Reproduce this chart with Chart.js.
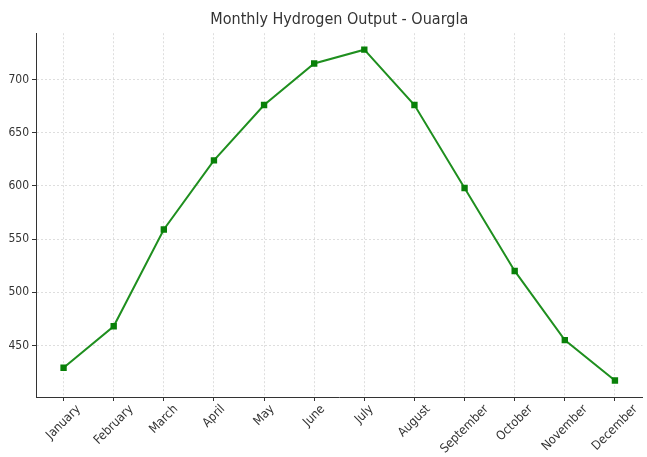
<!DOCTYPE html>
<html>
<head>
<meta charset="utf-8">
<script src="https://cdn.jsdelivr.net/npm/chart.js@4.4.0/dist/chart.umd.min.js"></script>
<style>
  html, body { margin: 0; padding: 0; background: #fff; }
  #wrap { width: 647px; height: 457px; }
</style>
</head>
<body>
<div id="wrap"><canvas id="chart"></canvas></div>
<script>
const months = ["January", "February", "March", "April", "May", "June",
    "July", "August", "September", "October", "November", "December"];
const output = [429, 468, 559, 624, 676, 715, 728, 676, 598, 520, 455, 417];
const yTicks = [450, 500, 550, 600, 650, 700];

const fontFamily = "'DejaVu Sans Condensed', 'DejaVu Sans', sans-serif";
const axisColor = '#333333';
const gridColor = 'rgba(200, 200, 200, 0.6)';

// month labels rotated 45deg and centred under each tick (matplotlib style)
const centredLabels = {
    id: 'centredLabels',
    afterDraw(chart) {
        const scale = chart.scales.x;
        const ctx = chart.ctx;
        const h = 12;
        ctx.save();
        ctx.font = '12.5px ' + fontFamily;
        ctx.fillStyle = axisColor;
        ctx.textAlign = 'center';
        ctx.textBaseline = 'middle';
        months.forEach((m, i) => {
            const w = ctx.measureText(m).width;
            const x = scale.getPixelForValue(i);
            const y = scale.top + 6 + (w + h) / (2 * Math.SQRT2);
            ctx.save();
            ctx.translate(x, y);
            ctx.rotate(-Math.PI / 4);
            ctx.fillText(m, 0, 0);
            ctx.restore();
        });
        ctx.restore();
    }
};

new Chart("chart", {
    type: "line",
    data: {
        datasets: [
            {
                label: "Hydrogen Output",
                data: months.map((m, i) => ({ x: i, y: output[i] })),
                borderColor: '#1f8f1f',
                backgroundColor: '#088008',
                borderWidth: 2,
                pointStyle: 'rect',
                pointRadius: 4.5,
                pointBorderWidth: 0,
                tension: 0,
                fill: false,
            }
        ]
    },
    options: {
        responsive: true,
        maintainAspectRatio: false,
        animation: false,
        layout: { padding: { left: 0, right: 2, top: 0, bottom: 0 } },
        plugins: {
            legend: { display: false },
            tooltip: { enabled: false },
            title: {
                display: true,
                fullSize: false,
                text: "Monthly Hydrogen Output - Ouargla",
                color: '#333333',
                font: { family: fontFamily, size: 16, weight: 'normal' },
                padding: { top: 10, bottom: 4 },
            },
        },
        scales: {
            x: {
                type: 'linear',
                min: -0.55,
                max: 11.55,
                afterBuildTicks: function (scale) {
                    scale.ticks = months.map((m, i) => ({ value: i }));
                },
                afterFit: function (scale) {
                    scale.height = 60;
                },
                ticks: { display: false },
                grid: {
                    color: gridColor,
                    tickBorderDash: [],
                    tickColor: axisColor,
                    tickLength: 4,
                },
                border: { display: true, color: axisColor, width: 1, dash: [2, 2] },
            },
            y: {
                min: 401.5,
                max: 743.5,
                afterBuildTicks: function (scale) {
                    scale.ticks = yTicks.map(v => ({ value: v }));
                },
                afterFit: function (scale) {
                    scale.width = 36;
                },
                ticks: {
                    padding: 3,
                    color: axisColor,
                    font: { family: fontFamily, size: 12 },
                },
                grid: {
                    color: gridColor,
                    tickBorderDash: [],
                    tickColor: axisColor,
                    tickLength: 4,
                },
                border: { display: true, color: axisColor, width: 1, dash: [2, 2] },
            }
        }
    },
    plugins: [centredLabels],
});
</script>
</body>
</html>
